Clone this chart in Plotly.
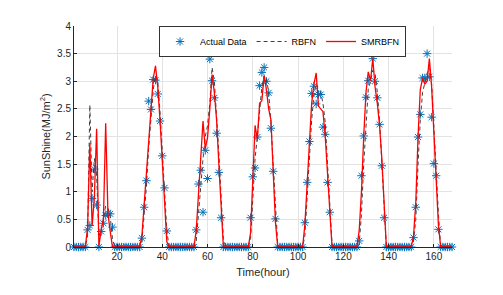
import plotly.graph_objects as go

hours = list(range(1, 169))

# Actual data, one row per day (24 hourly values)
actual = [
    0, 0, 0, 0, 0, 0, 0.31, 0.39, 0.88, 1.41, 0.76, 0, 0.28, 0.43, 0.57, 0.61, 0.60, 0.36, 0, 0, 0, 0, 0, 0,
    0, 0, 0, 0, 0, 0, 0.16, 0.72, 1.20, 2.64, 2.49, 3.03, 3.02, 2.77, 2.28, 1.65, 1.07, 0.29, 0, 0, 0, 0, 0, 0,
    0, 0, 0, 0, 0, 0, 0.31, 1.14, 1.39, 0.63, 1.75, 1.24, 3.40, 3.01, 2.70, 2.06, 1.35, 0.53, 0, 0, 0, 0, 0, 0,
    0, 0, 0, 0, 0, 0, 0.53, 1.27, 1.43, 1.99, 2.92, 3.16, 3.25, 3.00, 2.79, 2.15, 1.37, 0.51, 0, 0, 0, 0, 0, 0,
    0, 0, 0, 0, 0, 0, 0.44, 1.17, 1.91, 2.78, 2.91, 2.59, 2.76, 2.76, 2.17, 2.04, 1.17, 0.63, 0, 0, 0, 0, 0, 0,
    0, 0, 0, 0, 0, 0, 0.11, 1.29, 2.01, 2.71, 3.01, 3.56, 3.41, 3.00, 2.70, 2.22, 1.47, 0.53, 0, 0, 0, 0, 0, 0,
    0, 0, 0, 0, 0, 0, 0.17, 0.72, 1.99, 2.40, 3.06, 3.06, 3.50, 3.08, 2.35, 1.51, 1.29, 0.32, 0, 0, 0, 0, 0, 0,
]

rbfn = [
    0, 0, 0, 0, 0, 0, 0.20, 2.57, 1.00, 1.60, 1.30, 0.20, 0.30, 0.55, 0.75, 0.70, 0.55, 0.15, 0, 0, 0, 0, 0, 0,
    0, 0, 0, 0, 0, 0, 0.10, 0.60, 1.10, 1.80, 2.40, 2.85, 3.10, 3.00, 2.45, 1.75, 1.00, 0.30, 0, 0, 0, 0, 0, 0,
    0, 0, 0, 0, 0, 0, 0.10, 0.60, 1.20, 1.60, 2.00, 2.20, 2.60, 3.25, 3.00, 2.40, 1.70, 0.90, 0.15, 0, 0, 0, 0, 0,
    0, 0, 0, 0, 0, 0, 0.15, 0.90, 1.60, 2.00, 2.50, 2.90, 3.10, 3.05, 2.80, 2.25, 1.50, 0.70, 0.05, 0, 0, 0, 0, 0,
    0, 0, 0, 0, 0, 0, 0.20, 0.90, 1.60, 2.30, 2.75, 2.95, 2.85, 2.80, 2.60, 2.25, 1.50, 0.75, 0.05, 0, 0, 0, 0, 0,
    0, 0, 0, 0, 0, 0, 0.05, 0.60, 1.50, 2.30, 2.85, 3.00, 3.20, 3.15, 2.80, 2.30, 1.60, 0.80, 0, 0, 0, 0, 0, 0,
    0, 0, 0, 0, 0, 0, 0.10, 0.50, 1.50, 2.30, 2.80, 2.95, 3.10, 3.30, 2.95, 2.10, 1.40, 0.60, 0, 0, 0, 0, 0, 0,
]

smrbfn = [
    0, 0, 0, 0, 0, 0, 0.35, 1.88, 0.38, 0.90, 2.14, 0.02, 0.30, 0.50, 2.24, 0.60, 0.28, 0, 0, 0, 0, 0, 0, 0,
    0, 0, 0, 0, 0, 0, 0.20, 0.75, 1.30, 1.90, 2.50, 3.05, 3.28, 2.90, 2.30, 1.50, 0.70, 0.10, 0, 0, 0, 0, 0, 0,
    0, 0, 0, 0, 0, 0, 0.30, 1.00, 1.50, 2.28, 1.78, 1.98, 2.50, 3.12, 2.80, 2.30, 1.50, 0.70, 0, 0, 0, 0, 0, 0,
    0, 0, 0, 0, 0, 0, 0.25, 1.10, 2.20, 1.95, 2.60, 2.65, 3.10, 2.85, 2.50, 2.30, 1.40, 0.45, 0, 0, 0, 0, 0, 0,
    0, 0, 0, 0, 0, 0, 0.40, 1.20, 2.00, 2.60, 2.95, 3.15, 2.55, 2.50, 2.45, 2.00, 1.30, 0.60, 0, 0, 0, 0, 0, 0,
    0, 0, 0, 0, 0, 0, 0.30, 1.00, 2.00, 2.80, 3.17, 3.01, 3.41, 2.90, 2.60, 2.20, 1.60, 0.70, 0, 0, 0, 0, 0, 0,
    0, 0, 0, 0, 0, 0, 0.20, 0.80, 2.00, 2.85, 3.05, 2.95, 3.00, 3.41, 2.90, 2.00, 1.20, 0.40, 0, 0, 0, 0, 0, 0,
]

x_ticks = [20, 40, 60, 80, 100, 120, 140, 160]
y_ticks = [0, 0.5, 1, 1.5, 2, 2.5, 3, 3.5, 4]
y_labels = ["0", "0.5", "1", "1.5", "2", "2.5", "3", "3.5", "4"]

FONT = "Liberation Sans, Arial, sans-serif"

fig = go.Figure()
fig.add_trace(go.Scatter(
    x=hours, y=actual, mode="markers", name="Actual Data",
    marker=dict(symbol="asterisk-open", size=7, color="#0072BD",
                line=dict(color="#0072BD", width=1)),
    cliponaxis=False,
))
fig.add_trace(go.Scatter(
    x=hours, y=rbfn, mode="lines", name="RBFN",
    line=dict(color="#404040", width=1, dash="4px,3px"),
))
fig.add_trace(go.Scatter(
    x=hours, y=smrbfn, mode="lines", name="SMRBFN",
    line=dict(color="#ff0000", width=1.3),
))

fig.update_layout(
    width=503, height=295,
    margin=dict(l=66, r=59, t=16, b=56),
    paper_bgcolor="white", plot_bgcolor="white",
    font=dict(family=FONT, size=10, color="#262626"),
    showlegend=True,
    legend=dict(
        orientation="h", x=0.225, xanchor="left", y=1, yanchor="top",
        bgcolor="white", bordercolor="#333333", borderwidth=1,
        font=dict(size=9, color="#000000"),
        itemwidth=30, tracegroupgap=0,
    ),
    xaxis=dict(
        range=[1, 168], tickvals=x_ticks, ticks="inside", ticklen=3,
        tickcolor="#262626", showline=True, linecolor="#262626", linewidth=1,
        showgrid=True, gridcolor="#e3e3e3", gridwidth=1, zeroline=False,
        automargin=True,
        title=dict(text="Time(hour)", font=dict(size=11, color="#262626"), standoff=7),
        tickfont=dict(size=10, color="#262626"),
    ),
    yaxis=dict(
        range=[0, 4], tickvals=y_ticks, ticktext=y_labels, ticks="inside", ticklen=3,
        tickcolor="#262626", showline=True, linecolor="#262626", linewidth=1,
        showgrid=True, gridcolor="#e3e3e3", gridwidth=1, zeroline=False,
        automargin=True,
        title=dict(text="SunShine(MJ/m<sup>2</sup>)", font=dict(size=11, color="#262626"), standoff=4),
        tickfont=dict(size=10, color="#262626"),
    ),
)

fig.write_html("out.html")
